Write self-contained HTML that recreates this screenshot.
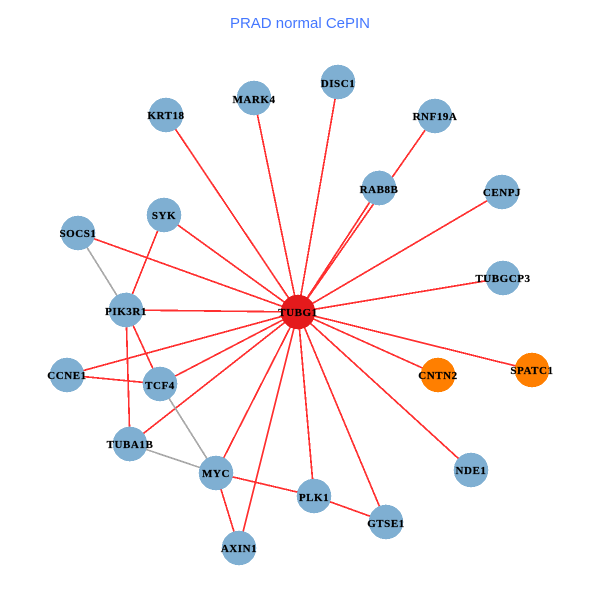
<!DOCTYPE html>
<html><head><meta charset="utf-8">
<style>
html,body{margin:0;padding:0;background:#fff;width:600px;height:600px;overflow:hidden}
svg{display:block}
text.n{font-family:"Liberation Serif",serif;font-weight:bold;font-size:11px;fill:#000;stroke:#000;stroke-width:.2px;text-anchor:middle;letter-spacing:.55px}
</style></head>
<body>
<svg width="600" height="600" viewBox="0 0 600 600" xmlns="http://www.w3.org/2000/svg">
<rect width="600" height="600" fill="#fff"/>
<text x="300" y="28" text-anchor="middle" style="font-family:'Liberation Sans',sans-serif;font-size:15px" fill="#4477ff">PRAD normal CePIN</text>
<g stroke="#ff3030" stroke-width="1.7" fill="none" shape-rendering="crispEdges">
<line x1="298" y1="312" x2="166" y2="115"/>
<line x1="298" y1="312" x2="254" y2="98"/>
<line x1="298" y1="312" x2="338" y2="82"/>
<line x1="298" y1="312" x2="435" y2="116"/>
<line x1="298" y1="312" x2="379" y2="188"/>
<line x1="298" y1="312" x2="502" y2="192"/>
<line x1="298" y1="312" x2="164" y2="215"/>
<line x1="298" y1="312" x2="78" y2="233"/>
<line x1="298" y1="312" x2="503" y2="278"/>
<line x1="298" y1="312" x2="126" y2="310"/>
<line x1="298" y1="312" x2="67" y2="375"/>
<line x1="298" y1="312" x2="160" y2="384"/>
<line x1="298" y1="312" x2="438" y2="375"/>
<line x1="298" y1="312" x2="532" y2="370"/>
<line x1="298" y1="312" x2="130" y2="444"/>
<line x1="298" y1="312" x2="216" y2="473"/>
<line x1="298" y1="312" x2="471" y2="470"/>
<line x1="298" y1="312" x2="314" y2="496"/>
<line x1="298" y1="312" x2="386" y2="522"/>
<line x1="298" y1="312" x2="239" y2="548"/>
<line x1="164" y1="215" x2="126" y2="310"/>
<line x1="126" y1="310" x2="160" y2="384"/>
<line x1="126" y1="310" x2="130" y2="444"/>
<line x1="67" y1="375" x2="160" y2="384"/>
<line x1="216" y1="473" x2="314" y2="496"/>
<line x1="314" y1="496" x2="386" y2="522"/>
<line x1="216" y1="473" x2="239" y2="548"/>
</g>
<g stroke="#a9a9a9" stroke-width="1.7" fill="none" shape-rendering="crispEdges">
<line x1="78" y1="233" x2="126" y2="310"/>
<line x1="160" y1="384" x2="216" y2="473"/>
<line x1="130" y1="444" x2="216" y2="473"/>
</g>
<g fill="#7fafd2" shape-rendering="crispEdges">
<circle cx="166" cy="115" r="17.3"/>
<circle cx="254" cy="98" r="17.3"/>
<circle cx="338" cy="82" r="17.3"/>
<circle cx="435" cy="116" r="17.3"/>
<circle cx="379" cy="188" r="17.3"/>
<circle cx="502" cy="192" r="17.3"/>
<circle cx="164" cy="215" r="17.3"/>
<circle cx="78" cy="233" r="17.3"/>
<circle cx="503" cy="278" r="17.3"/>
<circle cx="126" cy="310" r="17.3"/>
<circle cx="67" cy="375" r="17.3"/>
<circle cx="160" cy="384" r="17.3"/>
<circle cx="130" cy="444" r="17.3"/>
<circle cx="216" cy="473" r="17.3"/>
<circle cx="471" cy="470" r="17.3"/>
<circle cx="314" cy="496" r="17.3"/>
<circle cx="386" cy="522" r="17.3"/>
<circle cx="239" cy="548" r="17.3"/>
</g>
<circle cx="438" cy="375" r="17.3" fill="#ff7f00" shape-rendering="crispEdges"/>
<circle cx="532" cy="370" r="17.3" fill="#ff7f00" shape-rendering="crispEdges"/>
<circle cx="298" cy="312" r="17.3" fill="#e41a1c" shape-rendering="crispEdges"/>
<text class="n" x="166" y="119">KRT18</text>
<text class="n" x="254" y="103">MARK4</text>
<text class="n" x="338" y="87">DISC1</text>
<text class="n" x="435" y="120">RNF19A</text>
<text class="n" x="379" y="193">RAB8B</text>
<text class="n" x="502" y="196">CENPJ</text>
<text class="n" x="164" y="219">SYK</text>
<text class="n" x="78" y="237">SOCS1</text>
<text class="n" x="503" y="282">TUBGCP3</text>
<text class="n" x="126" y="315">PIK3R1</text>
<text class="n" x="298" y="316">TUBG1</text>
<text class="n" x="67" y="379">CCNE1</text>
<text class="n" x="160" y="389">TCF4</text>
<text class="n" x="438" y="379">CNTN2</text>
<text class="n" x="532" y="374">SPATC1</text>
<text class="n" x="130" y="448">TUBA1B</text>
<text class="n" x="216" y="477">MYC</text>
<text class="n" x="471" y="474">NDE1</text>
<text class="n" x="314" y="501">PLK1</text>
<text class="n" x="386" y="527">GTSE1</text>
<text class="n" x="239" y="552">AXIN1</text>
</svg>
</body></html>
